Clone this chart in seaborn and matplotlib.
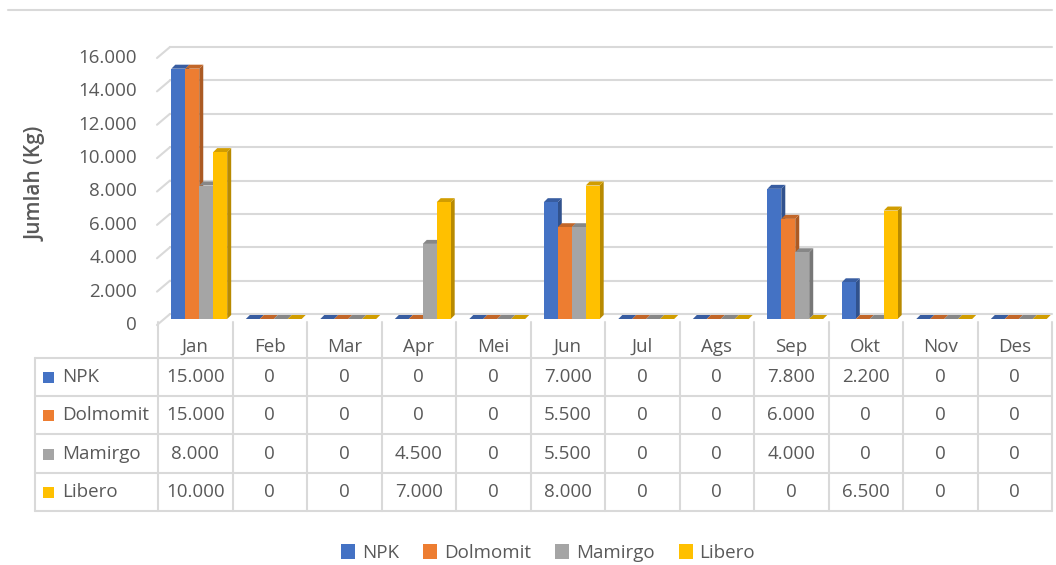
import numpy as np
import pandas as pd
import matplotlib
matplotlib.use("Agg")
import matplotlib.pyplot as plt
import seaborn as sns
from matplotlib.patches import Polygon, Rectangle, Patch
from matplotlib.lines import Line2D
from matplotlib.transforms import blended_transform_factory

# Data
months = ["Jan", "Feb", "Mar", "Apr", "Mei", "Jun", "Jul", "Ags", "Sep", "Okt", "Nov", "Des"]
series = ["NPK", "Dolmomit", "Mamirgo", "Libero"]
npk = [15000, 0, 0, 0, 0, 7000, 0, 0, 7800, 2200, 0, 0]
dolmomit = [15000, 0, 0, 0, 0, 5500, 0, 0, 6000, 0, 0, 0]
mamirgo = [8000, 0, 0, 4500, 0, 5500, 0, 0, 4000, 0, 0, 0]
libero = [10000, 0, 0, 7000, 0, 8000, 0, 0, 0, 6500, 0, 0]
y_ticks = list(range(0, 16001, 2000))

colors = ["#4472C4", "#ED7D31", "#A5A5A5", "#FFC000"]
TEXT = "#595959"
GRID = "#D9D9D9"
FS = 13.5

sns.set_style("white")
plt.rcParams["font.family"] = ["Open Sans", "DejaVu Sans"]

W, H = 1056, 565
AX_L, AX_R, AX_B, AX_T = 158, 1052, 319, 52
AW, AH = AX_R - AX_L, AX_B - AX_T


def fmt(v):
    return f"{v:,}".replace(",", ".")


df = pd.DataFrame({
    "Bulan": months * 4,
    "Pupuk": np.repeat(series, len(months)),
    "Jumlah": npk + dolmomit + mamirgo + libero,
})

fig = plt.figure(figsize=(W / 100, H / 100), dpi=100)
ax = fig.add_axes([AX_L / W, 1 - AX_B / H, AW / W, AH / H])

sns.barplot(data=df, x="Bulan", y="Jumlah", hue="Pupuk", order=months,
            hue_order=series, palette=colors, width=0.75, gap=0,
            saturation=1, legend=False, ax=ax)
ax.set_xlim(-0.5, 11.5)
ax.set_ylim(0, 16000)
ax.set_xlabel("")
ax.set_ylabel("")
ax.set_xticks([])
ax.set_yticks([])
for s in ax.spines.values():
    s.set_visible(False)

# pixel -> data units
ux = 12 / AW              # data x per px
uy = 16000 / AH           # data y per px
depth_x, depth_y = 4 * ux, 4 * uy
shift = 4 * ux

# fake 3D bars: side and top faces
for p in list(ax.patches):
    x, w, h = p.get_x() + shift, p.get_width(), p.get_height()
    p.set_x(x)
    p.set_edgecolor("none")
    p.set_zorder(3)
    rgb = np.array(p.get_facecolor()[:3])
    side = Polygon([(x + w, 0), (x + w + depth_x, depth_y), (x + w + depth_x, h + depth_y), (x + w, h)],
                   closed=True, facecolor=rgb * 0.72, edgecolor="none", zorder=2, clip_on=False)
    top = Polygon([(x, h), (x + depth_x, h + depth_y), (x + w + depth_x, h + depth_y), (x + w, h)],
                  closed=True, facecolor=rgb * 0.82, edgecolor="none", zorder=2, clip_on=False)
    ax.add_patch(side)
    ax.add_patch(top)

# back wall gridlines, slanted left edge and tick labels
ytr = ax.get_yaxis_transform()
axf = 1 / AW
for v in y_ticks:
    ax.plot([12 * axf, 1], [v + 5 * uy] * 2, color=GRID, lw=1.5, transform=ytr,
            clip_on=False, zorder=0)
    ax.plot([-1 * axf, 12 * axf], [v - 6 * uy, v + 5 * uy], color=GRID, lw=1.5,
            transform=ytr, clip_on=False, zorder=0)
    ax.text(-21 * axf, v - 6 * uy, fmt(v), transform=ytr, ha="right", va="center",
            fontsize=FS, color=TEXT)

fig.text(36 / W, 1 - 184 / H, "Jumlah (Kg)", rotation=90, ha="center", va="center",
         fontsize=15, fontweight="semibold", color=TEXT)


# data table under the chart
def ay(px):
    return (AX_B - px) / AH


btr = blended_transform_factory(ax.transData, ax.transAxes)
left_ax = (35 - AX_L) * axf
row_lines = [358, 396, 434, 473, 511]
row_centers = [377, 415, 454, 492]

for yl in row_lines:
    ax.plot([left_ax, 1], [ay(yl)] * 2, color=GRID, lw=1.5, transform=ax.transAxes,
            clip_on=False)
for k in range(len(months) + 1):
    ax.plot([k - 0.5] * 2, [ay(322), ay(511)], color=GRID, lw=1.5, transform=btr,
            clip_on=False)
ax.plot([left_ax] * 2, [ay(358), ay(511)], color=GRID, lw=1.5, transform=ax.transAxes,
        clip_on=False)

for i, m in enumerate(months):
    ax.text(i, ay(347), m, transform=btr, ha="center", va="center", fontsize=FS, color=TEXT)

values = [npk, dolmomit, mamirgo, libero]
for r, (name, vals, c) in enumerate(zip(series, values, colors)):
    yc = ay(row_centers[r])
    ax.add_patch(Rectangle(((43 - AX_L) * axf, yc - 5.5 / AH), 11 * axf, 11 / AH,
                           transform=ax.transAxes, facecolor=c, edgecolor="none",
                           clip_on=False))
    ax.text((62 - AX_L) * axf, yc, name, transform=ax.transAxes, ha="left", va="center",
            fontsize=FS, color=TEXT)
    for i, v in enumerate(vals):
        ax.text(i, yc, fmt(v), transform=btr, ha="center", va="center", fontsize=FS,
                color=TEXT)

# top border line
fig.add_artist(Line2D([8 / W, 1052 / W], [1 - 10 / H] * 2, color=GRID, lw=1.5))

handles = [Patch(facecolor=c, edgecolor="none", label=s) for s, c in zip(series, colors)]
leg = fig.legend(handles=handles, loc="center", bbox_to_anchor=(548 / W, 1 - 553 / H),
                 ncol=4, frameon=False, fontsize=FS, handlelength=0.75, handleheight=0.85,
                 handletextpad=0.35, columnspacing=1.3)
for t in leg.get_texts():
    t.set_color(TEXT)

fig.savefig("out.png", dpi=100)
